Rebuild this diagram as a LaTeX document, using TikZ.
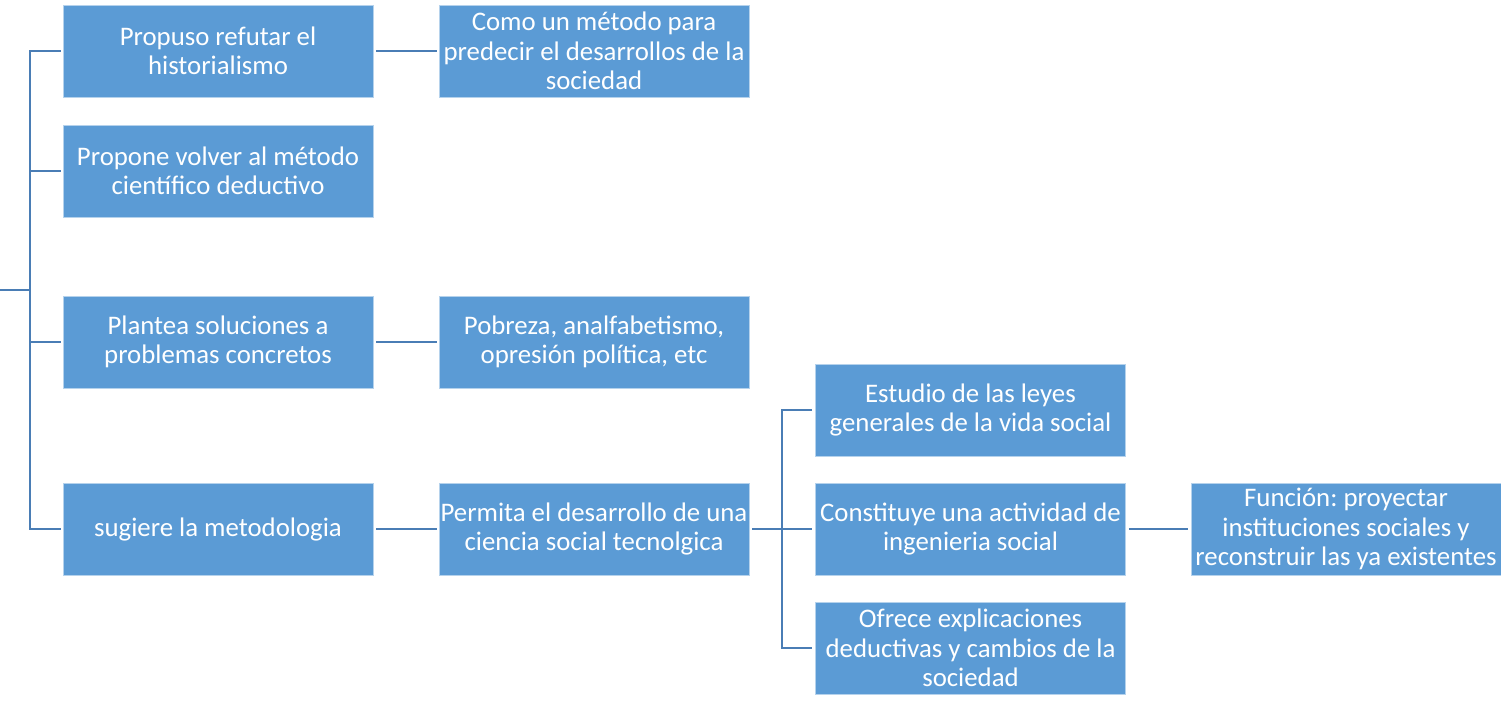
\documentclass[tikz,border=0pt]{standalone}
\usepackage{fontspec}
\setmainfont{Carlito}
\frenchspacing
\definecolor{boxblue}{HTML}{5B9BD5}
\definecolor{linkblue}{HTML}{4A7DB5}
\begin{document}
\begin{tikzpicture}[x=1pt,y=-1pt,
  bx/.style={fill=boxblue,draw=white!55!boxblue,line width=0.8pt,minimum width=310pt,minimum height=92pt,
    inner sep=0pt,align=center,text=white,font=\fontsize{26.8}{29.5}\selectfont},
  conn/.style={draw=linkblue,line width=2.6pt}]
\useasboundingbox (0,0) rectangle (1501,702);
% column 1
\node[bx] (b1) at (218,51) {Propuso refutar el\\historialismo};
\node[bx] (b2) at (218,171) {Propone volver al método\\científico deductivo};
\node[bx] (b3) at (218,342) {Plantea soluciones a\\problemas concretos};
\node[bx] (b4) at (218,529) {sugiere la metodologia};
% column 2
\node[bx] (c1) at (594,51) {Como un método para\\predecir el desarrollos de la\\sociedad};
\node[bx] (c3) at (594,342) {Pobreza, analfabetismo,\\opresión política, etc};
\node[bx] (c4) at (594,529) {Permita el desarrollo de una\\ciencia social tecnolgica};
% column 3
\node[bx] (d1) at (970.5,410) {Estudio de las leyes\\generales de la vida social};
\node[bx] (d2) at (970.5,529) {Constituye una actividad de\\ingenieria social};
\node[bx] (d3) at (970.5,648) {Ofrece explicaciones\\deductivas y cambios de la\\sociedad};
% column 4
\node[bx] (e2) at (1346,529) {Función: proyectar\\instituciones sociales y\\reconstruir las ya existentes};
% connectors
\coordinate (root) at (0,290);
\coordinate (spine) at (30,290);
\coordinate (spine2) at (782,529);
\draw[conn] (root) -- (spine);
\draw[conn] ([xshift=-2pt]b1.west) -- (b1.west -| spine) -- (b4.west -| spine) -- ([xshift=-2pt]b4.west);
\draw[conn] ([xshift=-2pt]b2.west) -- (b2.west -| spine);
\draw[conn] ([xshift=-2pt]b3.west) -- (b3.west -| spine);
\draw[conn] ([xshift=3pt]b1.east) -- ([xshift=-2pt]c1.west);
\draw[conn] ([xshift=3pt]b3.east) -- ([xshift=-2pt]c3.west);
\draw[conn] ([xshift=3pt]b4.east) -- ([xshift=-2pt]c4.west);
\draw[conn] ([xshift=3pt]c4.east) -- (spine2);
\draw[conn] ([xshift=-3pt]d1.west) -- (d1.west -| spine2) -- (d3.west -| spine2) -- ([xshift=-3pt]d3.west);
\draw[conn] (spine2) -- ([xshift=-3pt]d2.west);
\draw[conn] ([xshift=3pt]d2.east) -- ([xshift=-3pt]e2.west);
\end{tikzpicture}
\end{document}
